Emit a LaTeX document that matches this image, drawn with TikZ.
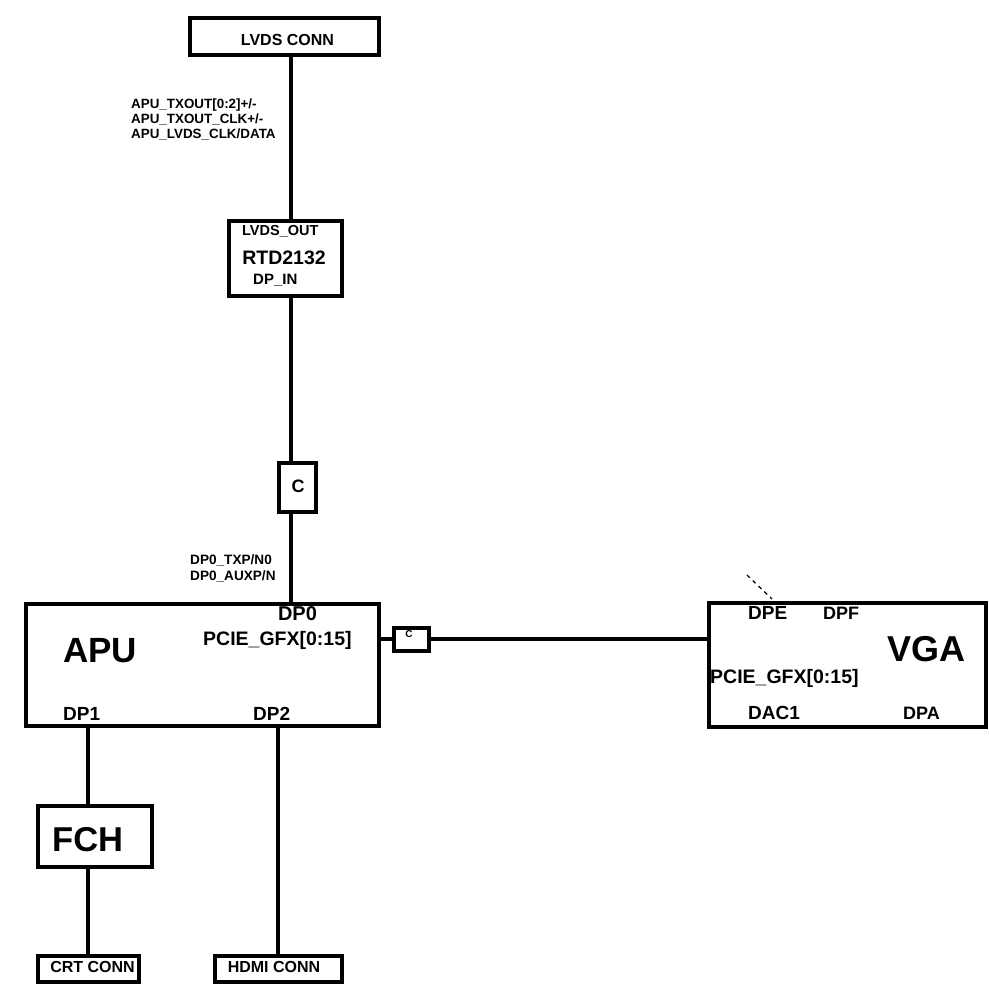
\documentclass[tikz,border=0pt]{standalone}
\usepackage{fontspec}
\setmainfont{Liberation Sans}
\usetikzlibrary{calc}
\newcommand{\fsz}[2][0]{\fontsize{#2}{#1}\selectfont\bfseries}

\begin{document}
\begin{tikzpicture}[
    x=1pt, y=-1pt,
    box/.style={draw, line width=4pt, inner sep=0pt},
    wire/.style={line width=3.5pt},
    txt/.style={inner sep=0pt, anchor=base},
    sig/.style={inner sep=0pt, anchor=north west, align=left},
  ]
  \useasboundingbox (0,0) rectangle (989,984);

  % ---- LVDS branch
  \node[box, minimum width=189pt, minimum height=37pt] (lvds) at (284,37) {};
  \node[txt, font=\fsz{16}] (lvdst) at (287.5,46) {LVDS CONN};
  \node[sig, font={\fsz[15]{13.4}}] (lvdssig) at (131,98.5)
    {APU\_TXOUT[0:2]+/-\\APU\_TXOUT\_CLK+/-\\APU\_LVDS\_CLK/DATA};

  \node[box, minimum width=113pt, minimum height=75pt] (rtd) at (285,259) {};
  \node[txt, anchor=base west, font=\fsz{14.5}] (rtdout) at (242,236) {LVDS\_OUT};
  \node[txt, font=\fsz{19.5}] (rtdt) at (284,265) {RTD2132};
  \node[txt, anchor=base west, font=\fsz{15}] (rtdin) at (253,285) {DP\_IN};

  \node[box, minimum width=37pt, minimum height=48pt] (cdp) at (297,487.5) {};
  \node[txt, font=\fsz{18}] (cdpt) at (298,493) {C};
  \node[sig, font={\fsz[16]{13.6}}] (dpsig) at (190,554.5)
    {DP0\_TXP/N0\\DP0\_AUXP/N};

  % ---- APU
  \node[box, minimum width=353pt, minimum height=122pt] (apu) at (202,664.5) {};
  \node[txt, anchor=base west, font=\fsz{35}] (aput) at (63,662) {APU};
  \node[txt, font=\fsz{20}] (dp0) at (297.5,620) {DP0};
  \node[txt, anchor=base west, font=\fsz{19.5}] (apugfx) at (203,645) {PCIE\_GFX[0:15]};
  \node[txt, anchor=base west, font=\fsz{19}] (dp1) at (63,720) {DP1};
  \node[txt, anchor=base west, font=\fsz{19}] (dp2) at (253,720) {DP2};

  \node[box, minimum width=35pt, minimum height=23pt] (cgfx) at (411,639) {};
  \node[txt, font=\fsz{10}] (cgfxt) at (409,637) {C};

  % ---- VGA
  \node[box, minimum width=277pt, minimum height=124pt] (vga) at (847,664.5) {};
  \node[txt, anchor=base west, font=\fsz{19}] (dpe) at (748,619) {DPE};
  \node[txt, anchor=base west, font=\fsz{18}] (dpf) at (823,619) {DPF};
  \node[txt, anchor=base west, font=\fsz{36}] (vgat) at (887,661) {VGA};
  \node[txt, anchor=base west, font=\fsz{19.5}] (vgagfx) at (710,683) {PCIE\_GFX[0:15]};
  \node[txt, anchor=base west, font=\fsz{19}] (dac1) at (748,719) {DAC1};
  \node[txt, anchor=base west, font=\fsz{18}] (dpa) at (903,719) {DPA};
  \coordinate (dshA) at (747,575);
  \coordinate (dshB) at (772,599);

  % ---- FCH and connectors
  \node[box, minimum width=114pt, minimum height=61pt] (fch) at (94.5,836) {};
  \node[txt, anchor=base west, font=\fsz{34.5}] (fcht) at (52,851) {FCH};
  \node[box, minimum width=101pt, minimum height=26pt] (crt) at (88,969) {};
  \node[txt, font=\fsz{16}] (crtt) at (92.5,972) {CRT CONN};
  \node[box, minimum width=127pt, minimum height=26pt] (hdmi) at (278,969) {};
  \node[txt, font=\fsz{16}] (hdmit) at (274,972) {HDMI CONN};

  % ---- wires
  \coordinate (bus) at (291,0);
  \draw[wire] (lvds.south -| bus) -- (rtd.north -| bus);
  \draw[wire] (rtd.south -| bus) -- (cdp.north -| bus);
  \draw[wire] (cdp.south -| bus) -- (apu.north -| bus);
  \draw[wire] (apu.east |- cgfx) -- (cgfx.west);
  \draw[wire] (cgfx.east) -- (vga.west |- cgfx);
  \draw[wire] (apu.south -| crt) -- (fch.north -| crt);
  \draw[wire] (fch.south -| crt) -- (crt.north);
  \draw[wire] (apu.south -| hdmi) -- (hdmi.north);
  \draw[line width=1.2pt, dash pattern=on 4pt off 4pt] (dshA) -- (dshB);
\end{tikzpicture}
\end{document}
